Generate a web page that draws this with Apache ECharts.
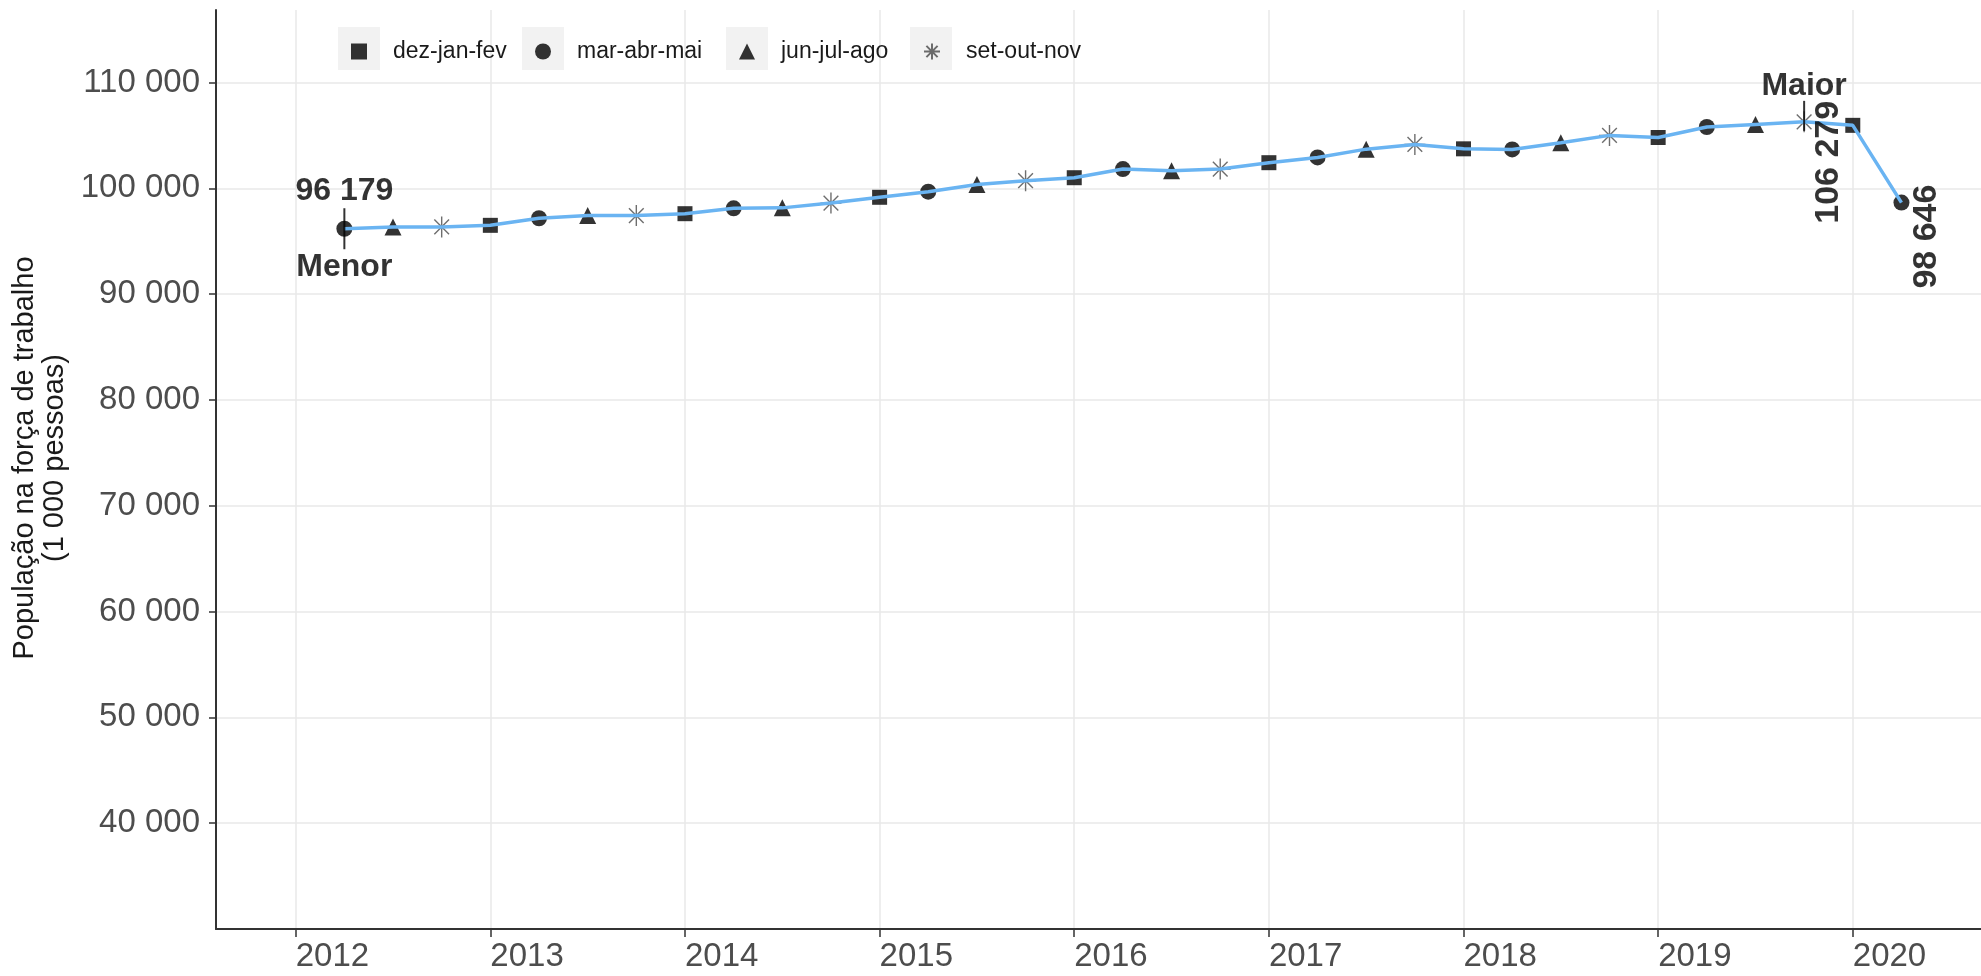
<!DOCTYPE html>
<html>
<head>
<meta charset="utf-8">
<title>População na força de trabalho</title>
<script src="https://cdn.jsdelivr.net/npm/echarts@6.0.0/dist/echarts.min.js"></script>
<style>
  html, body { margin: 0; padding: 0; background: #fff; }
  #chart { width: 1981px; height: 976px; }
</style>
</head>
<body>
<div id="chart"></div>
<script>
// trimestre móvel, identificado pelo mês central
const periodos = [
  '2012-04', '2012-07', '2012-10',
  '2013-01', '2013-04', '2013-07', '2013-10',
  '2014-01', '2014-04', '2014-07', '2014-10',
  '2015-01', '2015-04', '2015-07', '2015-10',
  '2016-01', '2016-04', '2016-07', '2016-10',
  '2017-01', '2017-04', '2017-07', '2017-10',
  '2018-01', '2018-04', '2018-07', '2018-10',
  '2019-01', '2019-04', '2019-07', '2019-10',
  '2020-01', '2020-04'
]
// população na força de trabalho (1 000 pessoas)
const forcaTrabalho = [
  96179, 96350, 96350,
  96500, 97170, 97420, 97420,
  97600, 98110, 98150, 98600,
  99150, 99680, 100350, 100720,
  101000, 101820, 101660, 101820,
  102420, 102920, 103700, 104150,
  103730, 103670, 104300, 105000,
  104800, 105790, 106040, 106279,
  105950, 98646
]
const trimestres = ['dez-jan-fev', 'mar-abr-mai', 'jun-jul-ago', 'set-out-nov']
const anos = [2012, 2013, 2014, 2015, 2016, 2017, 2018, 2019, 2020]
const marcasY = [40000, 50000, 60000, 70000, 80000, 90000, 100000, 110000]

const FONT = '"Liberation Sans", Arial, sans-serif'
const ASTERISCO = 'path://M10 0L10 20M0 10L20 10M3 3L17 17M17 3L3 17'

const fmt = v => String(Math.round(v)).replace(/\B(?=(\d{3})+(?!\d))/g, ' ')
const paraAno = p => {
  const [a, m] = p.split('-').map(Number)
  return a + (m - 1) / 12
}
// mês central 1 -> dez-jan-fev, 4 -> mar-abr-mai, 7 -> jun-jul-ago, 10 -> set-out-nov
const trimestreDe = p => Math.floor((Number(p.split('-')[1]) - 1) / 3)

const pontos = periodos.map((p, i) => [paraAno(p), forcaTrabalho[i]])

const simbolos = [
  { symbol: 'rect', size: 15, style: { color: '#000' } },
  { symbol: 'circle', size: 16, style: { color: '#000' } },
  { symbol: 'triangle', size: 17, style: { color: '#000' } },
  { symbol: ASTERISCO, size: 21, style: { color: 'transparent', borderColor: '#4a4a4a', borderWidth: 1.4 } }
]

const seriesTrimestre = trimestres.map((t, k) => ({
  name: t,
  type: 'scatter',
  z: 2,
  symbol: simbolos[k].symbol,
  symbolSize: simbolos[k].size,
  itemStyle: simbolos[k].style,
  data: pontos.filter((_, i) => trimestreDe(periodos[i]) === k)
}))

const iMin = forcaTrabalho.indexOf(Math.min(...forcaTrabalho))
const iMax = forcaTrabalho.indexOf(Math.max(...forcaTrabalho))
const iUlt = forcaTrabalho.length - 1

const rotulo = { fontSize: 32, fontWeight: 'bold', color: '#000', fontFamily: FONT }
const rotuloVertical = { ...rotulo, fontSize: 34 }
const invisivel = { symbolSize: 1, itemStyle: { color: 'transparent' } }

const anotacoes = [
  {
    value: pontos[iMin], symbol: 'rect', symbolSize: [2, 41], itemStyle: { color: '#000' },
    label: {
      show: true, position: 'inside',
      formatter: `{v|${fmt(forcaTrabalho[iMin])}}\n{v| }\n{v|Menor}`,
      rich: { v: { ...rotulo, lineHeight: 38 } }
    }
  },
  { value: pontos[iMax], symbol: 'rect', symbolSize: [2, 30], symbolOffset: [0, -6], itemStyle: { color: '#000' } },
  {
    value: pontos[iMax], ...invisivel,
    label: { show: true, position: 'inside', offset: [0, -36], formatter: 'Maior', ...rotulo }
  },
  {
    value: pontos[iMax], ...invisivel,
    label: {
      show: true, position: 'inside', rotate: 90, align: 'right', verticalAlign: 'middle',
      offset: [21, 24], formatter: fmt(forcaTrabalho[iMax]), ...rotuloVertical
    }
  },
  {
    value: pontos[iUlt], ...invisivel,
    label: {
      show: true, position: 'inside', rotate: 90, align: 'right', verticalAlign: 'middle',
      offset: [18, 25], formatter: fmt(forcaTrabalho[iUlt]), ...rotuloVertical
    }
  }
]

// posição horizontal (centro) de cada chave da legenda
const chaveX = [359, 543, 747, 931]

const chart = echarts.init(document.getElementById('chart'))

chart.setOption({
  animation: false,
  backgroundColor: '#fff',
  textStyle: { fontFamily: FONT },
  grid: { left: 216, top: 10, right: 0, bottom: 47, containLabel: false },
  graphic: chaveX.map(cx => ({
    type: 'rect', z: 1, silent: true,
    shape: { x: cx - 21, y: 27, width: 42, height: 43 },
    style: { fill: '#f2f2f2' }
  })),
  legend: trimestres.map((t, k) => ({
    data: [t],
    left: chaveX[k] - 8,
    top: 40,
    padding: 0,
    itemWidth: 16,
    itemHeight: 16,
    selectedMode: false,
    textStyle: { fontSize: 23, color: '#1a1a1a', fontFamily: FONT, padding: [0, 0, 0, 21] }
  })),
  xAxis: {
    type: 'value',
    min: 2011.5905,
    max: 2020.6587,
    minInterval: 1,
    maxInterval: 1,
    axisLine: { show: true, lineStyle: { color: '#333', width: 2 } },
    axisTick: { show: true, length: 8, customValues: anos, lineStyle: { color: '#333', width: 1.5 } },
    axisLabel: {
      customValues: anos, align: 'left', margin: 11,
      fontSize: 33, color: '#4d4d4d', fontFamily: FONT,
      formatter: v => String(Math.round(v))
    },
    splitLine: { show: true, lineStyle: { color: '#e8e8e8', width: 1.5 } }
  },
  yAxis: {
    type: 'value',
    min: 30000,
    max: 116850,
    minInterval: 10000,
    maxInterval: 10000,
    axisLine: { show: true, lineStyle: { color: '#333', width: 2 } },
    axisTick: { show: true, length: 7, customValues: marcasY, lineStyle: { color: '#333', width: 1.5 } },
    axisLabel: {
      customValues: marcasY, margin: 16,
      fontSize: 33, color: '#4d4d4d', fontFamily: FONT,
      formatter: fmt
    },
    splitLine: { show: true, lineStyle: { color: '#e8e8e8', width: 1.5 } },
    name: 'População na força de trabalho\n(1 000 pessoas)',
    nameLocation: 'middle',
    nameRotate: 90,
    nameGap: 128,
    nameTextStyle: { fontSize: 29, lineHeight: 30, color: '#1a1a1a', fontFamily: FONT, padding: [0, 0, 0, 23] }
  },
  series: [
    ...seriesTrimestre,
    {
      name: 'Força de trabalho',
      type: 'line',
      z: 3,
      symbol: 'none',
      data: pontos,
      lineStyle: { color: '#6ab4f2', width: 3.5 }
    },
    {
      name: 'anotações',
      type: 'scatter',
      z: 5,
      silent: true,
      data: anotacoes
    }
  ]
})

window.addEventListener('resize', () => chart.resize())
</script>
</body>
</html>
